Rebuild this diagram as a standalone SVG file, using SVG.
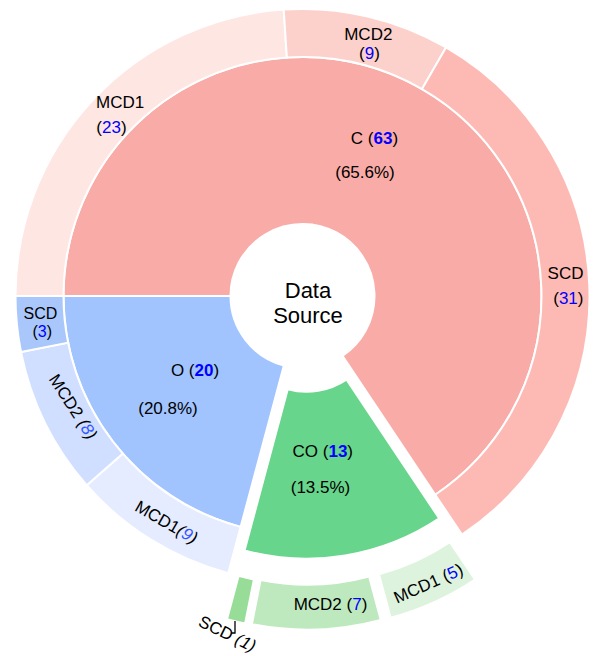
<svg xmlns="http://www.w3.org/2000/svg" width="593" height="656" viewBox="0 0 593 656">
  <style>
    .w { stroke: #ffffff; stroke-width: 2; stroke-linejoin: miter; }
    text { font-family: "Liberation Sans", Arial, Helvetica, sans-serif; font-size: 17px; fill: #000000; }
    .big { font-size: 22px; }
    .sm { font-size: 16px; }
    .n { fill: #0000ff; }
    .nb { fill: #0000ff; font-weight: bold; }
    .ni { fill: #3355ff; }
    .it { font-style: italic; }
    .lead { fill: none; stroke: #000000; stroke-width: 1.3; }
  </style>
  <rect width="593" height="656" fill="#ffffff"/>

  <!-- category C -->
  <g id="node-C">
    <path class="w" fill="#f9aca7" d="M63.5,296 A239,239 0 1 1 435.28,494.72 L342.50,355.87 A72,72 0 1 0 230.5,296 Z"/>
    <text x="374.5" y="143.5" text-anchor="middle">C (<tspan class="nb">63</tspan>)</text>
    <text x="365" y="178" text-anchor="middle">(65.6%)</text>
  </g>
  <g id="node-C-MCD1">
    <path class="w" fill="#fee6e3" d="M15.5,296 A287,287 0 0 1 283.73,9.62 L286.87,57.51 A239,239 0 0 0 63.5,296 Z"/>
    <text x="96" y="108.3">MCD1</text>
    <text x="96.3" y="132.5">(<tspan class="n">23</tspan>)</text>
  </g>
  <g id="node-C-MCD2">
    <path class="w" fill="#fcd0cb" d="M283.73,9.62 A287,287 0 0 1 446,47.45 L422,89.02 A239,239 0 0 0 286.87,57.51 Z"/>
    <text x="368.3" y="39.5" text-anchor="middle">MCD2</text>
    <text x="369.5" y="59" text-anchor="middle">(<tspan class="n">9</tspan>)</text>
  </g>
  <g id="node-C-SCD">
    <path class="w" fill="#fdbab4" d="M446,47.45 A287,287 0 0 1 461.95,534.63 L435.28,494.72 A239,239 0 0 0 422,89.02 Z"/>
    <text x="583.5" y="279" text-anchor="end">SCD</text>
    <text x="583.5" y="304" text-anchor="end">(<tspan class="n">31</tspan>)</text>
  </g>

  <!-- category O -->
  <g id="node-O">
    <path class="w" fill="#a1c4ff" d="M240.64,526.86 A239,239 0 0 1 63.5,296 L230.5,296 A72,72 0 0 0 283.86,365.55 Z"/>
    <text x="195" y="375.5" text-anchor="middle">O (<tspan class="nb">20</tspan>)</text>
    <text x="168" y="414" text-anchor="middle">(20.8%)</text>
  </g>
  <g id="node-O-MCD1">
    <path class="w" fill="#e6ecff" d="M228.22,573.22 A287,287 0 0 1 86.72,485.23 L122.81,453.58 A239,239 0 0 0 240.64,526.86 Z"/>
    <text transform="translate(166.5,522) rotate(30)" y="6" text-anchor="middle">MCD1<tspan class="it">(<tspan class="ni">9</tspan>)</tspan></text>
  </g>
  <g id="node-O-MCD2">
    <path class="w" fill="#d0deff" d="M86.72,485.23 A287,287 0 0 1 21.01,351.99 L68.09,342.63 A239,239 0 0 0 122.81,453.58 Z"/>
    <text transform="translate(73.3,406.7) rotate(57)" y="6" text-anchor="middle">MCD2 <tspan class="it">(<tspan class="ni">8</tspan>)</tspan></text>
  </g>
  <g id="node-O-SCD">
    <path class="w" fill="#a9c7fb" d="M21.01,351.99 A287,287 0 0 1 15.5,296 L63.5,296 A239,239 0 0 0 68.09,342.63 Z"/>
    <text class="sm" x="40.5" y="318.5" text-anchor="middle">SCD</text>
    <text class="sm" x="42.3" y="336.5" text-anchor="middle">(<tspan class="n">3</tspan>)</text>
  </g>

  <!-- category CO (pulled out from the centre) -->
  <g id="node-CO">
    <path class="w" fill="#67d58b" transform="translate(3.91,23.68)" d="M435.28,494.72 A239,239 0 0 1 240.64,526.86 L283.86,365.55 A72,72 0 0 0 342.50,355.87 Z"/>
    <text x="322.8" y="456.5" text-anchor="middle">CO (<tspan class="nb">13</tspan>)</text>
    <text x="320.5" y="493" text-anchor="middle">(13.5%)</text>
  </g>
  <g id="node-CO-MCD1">
    <path class="w" fill="#ddf3dd" transform="translate(14.64,47.36)" d="M460.28,532.14 A284,284 0 0 1 376,570.32 L364.36,526.86 A239,239 0 0 0 435.28,494.72 Z"/>
    <text transform="translate(428.3,583.3) rotate(-24)" y="6" text-anchor="middle">MCD1 (<tspan class="n">5</tspan>)</text>
  </g>
  <g id="node-CO-MCD2">
    <path class="w" fill="#bee9be" transform="translate(4.76,49.67)" d="M376,570.32 A284,284 0 0 1 247.09,574.54 L255.87,530.41 A239,239 0 0 0 364.36,526.86 Z"/>
    <text x="330.5" y="610" text-anchor="middle">MCD2 (<tspan class="n">7</tspan>)</text>
  </g>
  <g id="node-CO-SCD">
    <path class="w" fill="#97dc97" transform="translate(-1.99,49)" d="M247.09,574.54 A284,284 0 0 1 229,570.32 L240.64,526.86 A239,239 0 0 0 255.87,530.41 Z"/>
    <text transform="translate(227.5,633.5) rotate(26)" y="6" text-anchor="middle">SCD <tspan class="it">(1)</tspan></text>
  </g>

  <!-- centre label -->
  <g id="node-root">
    <text class="big" x="308" y="298" text-anchor="middle">Data</text>
    <text class="big" x="308" y="323" text-anchor="middle">Source</text>
  </g>

  <g id="connectors">
    <path class="lead" d="M235,621 V633 H231"/>
  </g>
</svg>
